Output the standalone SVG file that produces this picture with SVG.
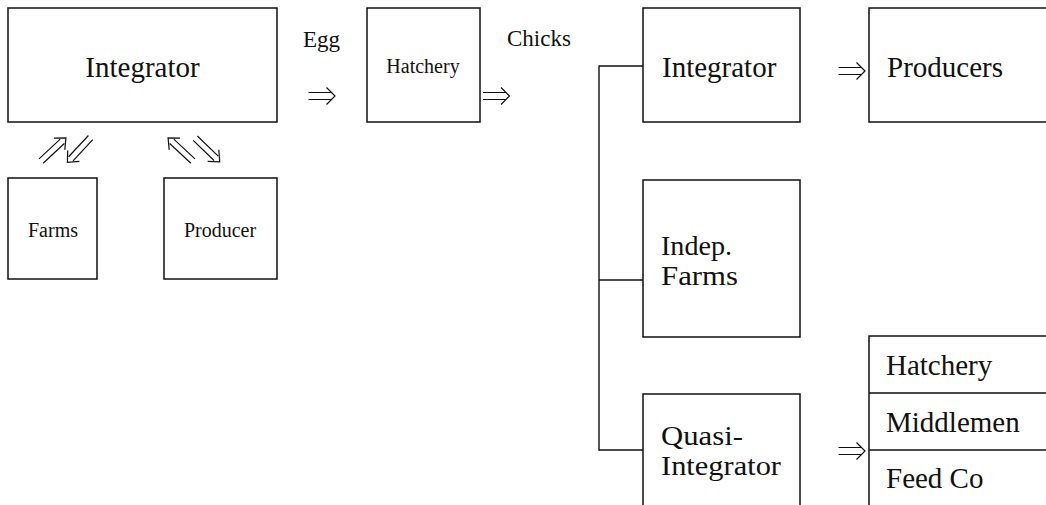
<svg xmlns="http://www.w3.org/2000/svg" width="1046" height="505" viewBox="0 0 1046 505">
<style>
.box{fill:#fff;stroke:#111;stroke-width:1.5}
.ln{fill:none;stroke:#111;stroke-width:1.4}
.ar{fill:none;stroke:#111;stroke-width:1.2}
text{font-family:"Liberation Serif","Times New Roman",serif;fill:#111}
.big{font-size:29px}
.two{font-size:27px}
.mid{font-size:23px}
.sm{font-size:20px}
</style>
<defs>
<path id="dbl" class="ar" d="M-13,-3.5 H10 M-13,3.5 H10 M5,-8.5 L13.5,0 L5,8.5"/>
<path id="diag" class="ar" d="M-17,-3 H12 M-17,3 H12 M8,-8 L17,0 L8,8"/>
</defs>
<rect width="1046" height="505" fill="#fff"/>
<g id="connectors">
<path class="ln" d="M643,66 H599 V450 H643 M599,280 H643"/>
<use href="#dbl" transform="translate(321.5,96)"/>
<use href="#dbl" transform="translate(496,96)"/>
<use href="#dbl" transform="translate(851.5,71)"/>
<use href="#dbl" transform="translate(851.5,451)"/>
<use href="#diag" transform="translate(53.5,149.5) rotate(-43)"/>
<use href="#diag" transform="translate(79,150) rotate(133)"/>
<use href="#diag" transform="translate(180.5,149.5) rotate(-137)"/>
<use href="#diag" transform="translate(207.5,150) rotate(44)"/>
</g>
<g id="integrator-main">
<rect class="box" x="8" y="8" width="269" height="114"/>
<text class="big" x="142.5" y="77" text-anchor="middle">Integrator</text>
</g>
<g id="egg-label"><text class="mid" x="303" y="47">Egg</text></g>
<g id="chicks-label"><text class="mid" x="507" y="46">Chicks</text></g>
<g id="hatchery">
<rect class="box" x="367" y="8" width="113" height="114"/>
<text class="sm" x="423" y="73" text-anchor="middle">Hatchery</text>
</g>
<g id="farms">
<rect class="box" x="8" y="178" width="89" height="101"/>
<text class="sm" x="53" y="237" text-anchor="middle">Farms</text>
</g>
<g id="producer">
<rect class="box" x="164" y="178" width="113" height="101"/>
<text class="sm" x="220" y="237" text-anchor="middle">Producer</text>
</g>
<g id="integrator-2">
<rect class="box" x="643" y="8" width="157" height="114"/>
<text class="big" x="662" y="77">Integrator</text>
</g>
<g id="producers">
<rect class="box" x="869" y="8" width="200" height="114"/>
<text class="big" x="887" y="77">Producers</text>
</g>
<g id="indep-farms">
<rect class="box" x="643" y="180" width="157" height="157"/>
<text class="two" x="661" y="255" textLength="71" lengthAdjust="spacingAndGlyphs">Indep.</text>
<text class="two" x="661" y="285" textLength="77" lengthAdjust="spacingAndGlyphs">Farms</text>
</g>
<g id="quasi-integrator">
<rect class="box" x="643" y="394" width="157" height="140"/>
<text class="two" x="661" y="445" textLength="82" lengthAdjust="spacingAndGlyphs">Quasi-</text>
<text class="two" x="661" y="475" textLength="120" lengthAdjust="spacingAndGlyphs">Integrator</text>
</g>
<g id="stack">
<rect class="box" x="869" y="336" width="200" height="200"/>
<path class="ln" d="M869,393 H1046 M869,450 H1046"/>
<text class="big" x="886" y="375">Hatchery</text>
<text class="big" x="886" y="432">Middlemen</text>
<text class="big" x="886" y="488">Feed Co</text>
</g>
</svg>
